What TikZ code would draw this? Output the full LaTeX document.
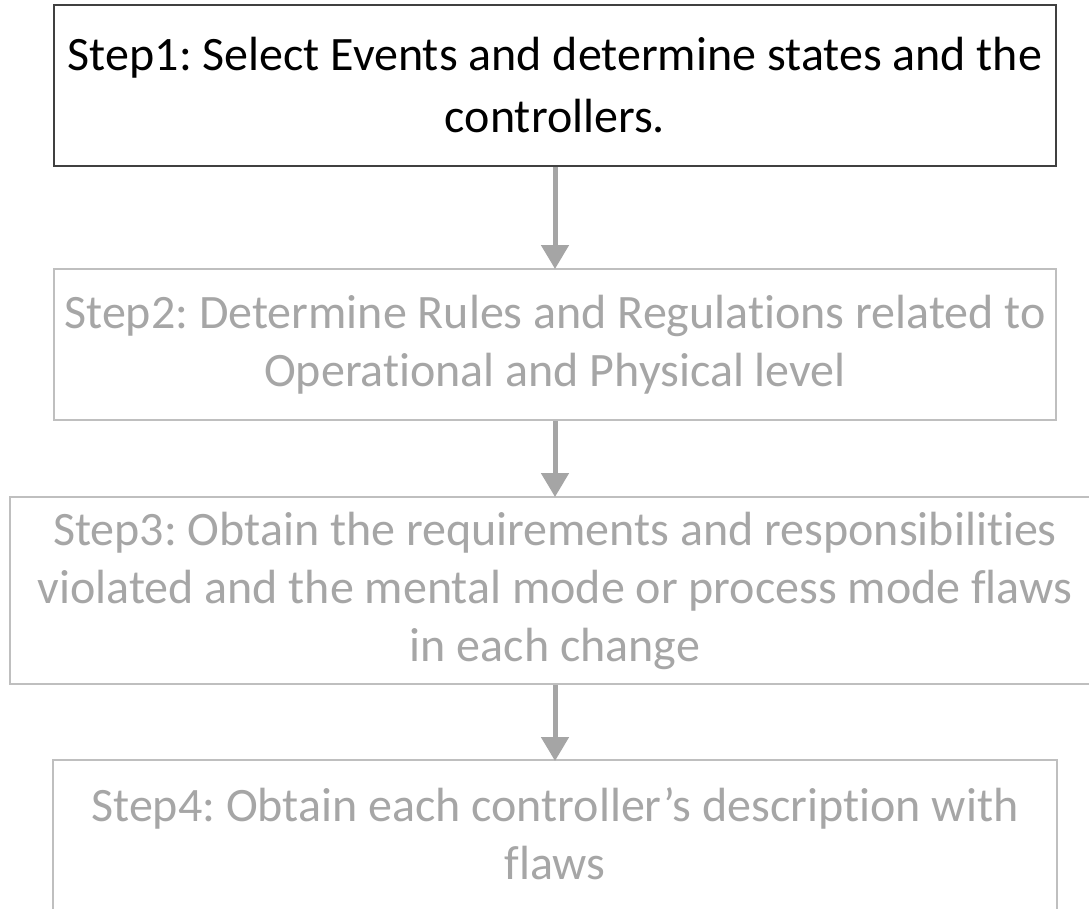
\documentclass[tikz,border=0pt]{standalone}
\usepackage{fontspec}
\setmainfont{Carlito}[RawFeature={-liga;-clig;-dlig;-calt}]
\frenchspacing
\usetikzlibrary{arrows.meta}
\definecolor{stepgray}{HTML}{A6A6A6}
\definecolor{framegray}{HTML}{BFBFBF}
\definecolor{framedark}{HTML}{404040}
\definecolor{arrowgray}{HTML}{A5A5A5}
\tikzset{
  stepbox/.style={draw=framegray, line width=2pt, fill=white, text=stepgray,
    align=center, inner sep=0pt, font=\fontsize{48}{58}\selectfont},
  firstbox/.style={stepbox, draw=framedark, text=black,
    font=\fontsize{48}{62}\selectfont},
  flow/.style={draw=arrowgray, line width=5pt,
    -{Triangle[length=24pt,width=27pt]}, shorten >=-1pt}
}
\begin{document}
\begin{tikzpicture}[x=1pt,y=-1pt]
  \useasboundingbox (0,0) rectangle (1089,908);
  \clip (0,0) rectangle (1089,908);
  \fill[white] (0,0) rectangle (1089,908);

  \node[firstbox, minimum width=1002pt, minimum height=161pt] (s1) at (555,85.5)
    {Step1: Select Events and determine states and the\\controllers.};
  \node[stepbox, minimum width=1002pt, minimum height=151pt] (s2) at (555,344.5)
    {Step2: Determine Rules and Regulations related to\\Operational and Physical level};
  \node[stepbox, minimum width=1090pt, minimum height=187pt] (s3) at (555,590.5)
    {Step3: Obtain the requirements and responsibilities\\violated and the mental mode or process mode flaws\\in each change};
  % last step: its frame runs on past the lower edge of the page
  \node[stepbox, draw=none, fill=none, minimum width=1002pt, minimum height=145pt]
    (s4) at (555,833.5)
    {Step4: Obtain each controller’s description with\\flaws};
  \draw[framegray, line width=2pt] (s4.north west) rectangle ([yshift=-20pt]s4.south east);

  \draw[flow] (s1.south) -- (s2.north);
  \draw[flow] (s2.south) -- (s3.north);
  \draw[flow] (s3.south) -- (s4.north);
\end{tikzpicture}
\end{document}
